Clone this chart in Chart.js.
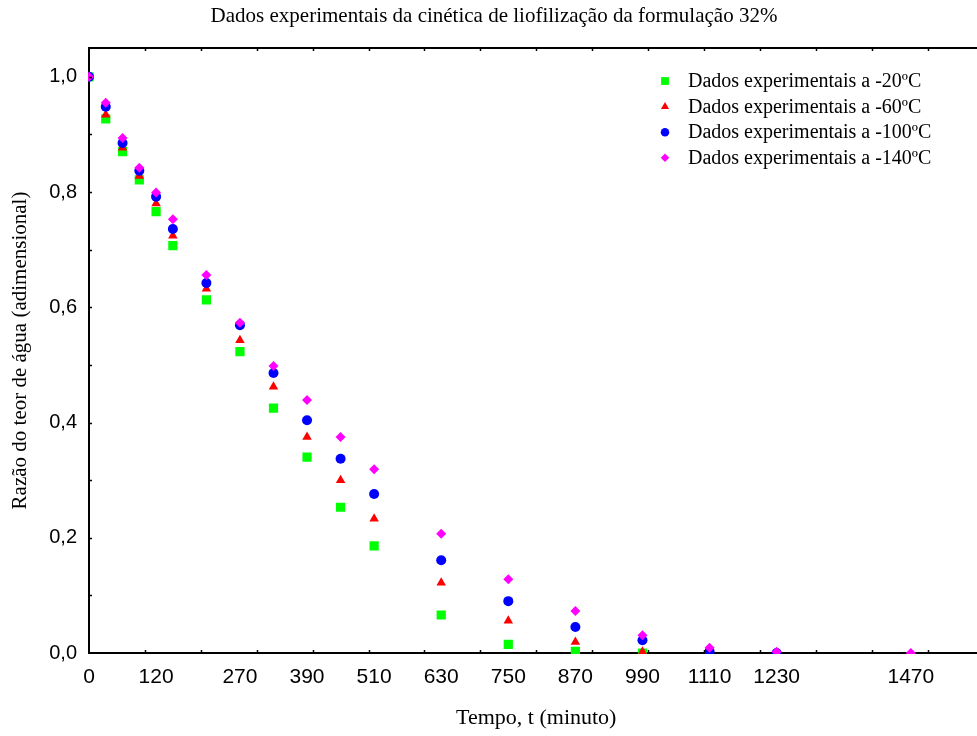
<!DOCTYPE html>
<html>
<head>
<meta charset="utf-8">
<title>Cinética de liofilização</title>
<script src="https://cdn.jsdelivr.net/npm/chart.js@4.4.1/dist/chart.umd.min.js"></script>
<style>
  html, body { margin: 0; padding: 0; background: #fff; overflow: hidden; }
  canvas { display: block; }
</style>
</head>
<body>
<canvas id="grafico" width="990" height="736"></canvas>
<script>
// dados
var tempos = [0, 30, 60, 90, 120, 150, 210, 270, 330, 390, 450, 510, 630, 750, 870, 990, 1110, 1230, 1470];

var razao20 = [1.0, 0.927, 0.870, 0.821, 0.766, 0.707, 0.613, 0.523, 0.425, 0.340, 0.253, 0.186, 0.066, 0.015, 0.003, 0.0];
var razao60 = [1.0, 0.934, 0.877, 0.828, 0.780, 0.724, 0.632, 0.543, 0.462, 0.375, 0.300, 0.233, 0.122, 0.056, 0.019, 0.002, 0.0];
var razao100 = [1.0, 0.948, 0.885, 0.837, 0.792, 0.736, 0.642, 0.569, 0.486, 0.404, 0.337, 0.276, 0.161, 0.090, 0.045, 0.022, 0.003, 0.0];
var razao140 = [1.0, 0.955, 0.894, 0.842, 0.799, 0.753, 0.656, 0.573, 0.498, 0.439, 0.375, 0.319, 0.207, 0.128, 0.073, 0.031, 0.009, 0.002, 0.0];

var rotulosX = [0, 120, 270, 390, 510, 630, 750, 870, 990, 1110, 1230, 1470];
var rotulosY = [0, 0.2, 0.4, 0.6, 0.8, 1.0];

var legendas = [
    'Dados experimentais a -20ºC',
    'Dados experimentais a -60ºC',
    'Dados experimentais a -100ºC',
    'Dados experimentais a -140ºC'
];

var titulo = 'Dados experimentais da cinética de liofilização da formulação 32%';
var tituloX = 'Tempo, t (minuto)';
var tituloY = 'Razão do teor de água (adimensional)';

function pontos(valores) {
    var ret = [];
    for (var i = 0; i < valores.length; i++) {
        ret.push({x: tempos[i], y: valores[i]});
    }
    return ret;
}

function serie(label, valores, cor, estilo, raio, ordem) {
    return {
        label: label,
        data: pontos(valores),
        pointStyle: estilo,
        pointRadius: raio,
        pointBackgroundColor: cor,
        pointBorderColor: cor,
        pointBorderWidth: 0,
        showLine: false,
        clip: 1,
        order: ordem
    };
}

// marcas pequenas dos eixos e a borda de cima
var marcasPlugin = {
    id: 'marcas',
    afterDatasetsDraw: function (chart) {
        var ctx = chart.ctx;
        var area = chart.chartArea;
        var sx = chart.scales.x;
        var sy = chart.scales.y;
        ctx.save();
        ctx.strokeStyle = '#000';
        ctx.lineWidth = 2;
        ctx.beginPath();
        ctx.moveTo(area.left - 1, area.top);
        ctx.lineTo(area.right + 2, area.top);
        ctx.stroke();

        ctx.lineWidth = 1.5;
        ctx.beginPath();
        for (var v = 100; v < sx.max; v += 100) {
            var px = Math.round(sx.getPixelForValue(v)) + 0.5;
            ctx.moveTo(px, area.bottom);
            ctx.lineTo(px, area.bottom - 3);
            ctx.moveTo(px, area.top);
            ctx.lineTo(px, area.top + 3);
        }
        for (var k = 1; k <= 10; k++) {
            var py = Math.round(sy.getPixelForValue(k / 10)) + 0.5;
            ctx.moveTo(area.left, py);
            ctx.lineTo(area.left + 3, py);
        }
        ctx.stroke();
        ctx.restore();
    }
};

// legenda dentro da area do grafico
var legendaPlugin = {
    id: 'legendaInterna',
    afterDraw: function (chart) {
        var ctx = chart.ctx;
        var sets = chart.data.datasets;
        var x0 = 665, y0 = 81, passo = 25.6;
        ctx.save();
        ctx.font = '20px "Liberation Serif", "Times New Roman", serif';
        ctx.textBaseline = 'middle';
        ctx.textAlign = 'left';
        for (var i = 0; i < sets.length; i++) {
            var ds = sets[i];
            var y = y0 + i * passo;
            ctx.fillStyle = ds.pointBackgroundColor;
            ctx.strokeStyle = ds.pointBorderColor;
            Chart.helpers.drawPoint(ctx, {
                pointStyle: ds.pointStyle,
                radius: ds.pointRadius * 0.85,
                rotation: 0,
                borderWidth: 0
            }, x0, y);
            ctx.fillStyle = '#000';
            ctx.fillText(ds.label, 688, y + 1);
        }
        ctx.restore();
    }
};

Chart.defaults.font.family = '"Liberation Sans", Arial, sans-serif';
Chart.defaults.color = '#000';

var ctx = document.getElementById('grafico').getContext('2d');

var grafico = new Chart(ctx, {
    type: 'scatter',
    data: {
        datasets: [
            serie(legendas[0], razao20, '#00ff00', 'rect', 6.5, 4),
            serie(legendas[1], razao60, '#ff0000', 'triangle', 5.5, 3),
            serie(legendas[2], razao100, '#0000ff', 'circle', 5, 2),
            serie(legendas[3], razao140, '#ff00ff', 'rectRot', 5, 1)
        ]
    },
    options: {
        responsive: false,
        animation: false,
        layout: {padding: {left: 0, right: 2, top: 0, bottom: 0}},
        plugins: {
            legend: {display: false},
            tooltip: {enabled: false},
            title: {
                display: true,
                text: titulo,
                color: '#000',
                font: {family: '"Liberation Serif", "Times New Roman", serif', size: 21, weight: 'normal'},
                padding: {top: 4, bottom: 18.8}
            }
        },
        scales: {
            x: {
                type: 'linear',
                position: 'bottom',
                min: 0,
                max: 1600,
                afterBuildTicks: function (scale) {
                    scale.ticks = rotulosX.map(function (v) { return {value: v}; });
                },
                afterFit: function (scale) { scale.height = 83; },
                grid: {display: false, drawTicks: false},
                border: {display: true, color: '#000', width: 2},
                ticks: {
                    font: {size: 21},
                    padding: 12,
                    maxRotation: 0,
                    autoSkip: false,
                    callback: function (v) { return String(v); }
                },
                title: {
                    display: true,
                    text: tituloX,
                    font: {family: '"Liberation Serif", "Times New Roman", serif', size: 22},
                    padding: {top: 5, bottom: 5}
                }
            },
            y: {
                type: 'linear',
                min: 0,
                max: 1.05,
                afterBuildTicks: function (scale) {
                    scale.ticks = rotulosY.map(function (v) { return {value: v}; });
                },
                afterFit: function (scale) { scale.width = 89; },
                grid: {display: false, drawTicks: false},
                border: {display: true, color: '#000', width: 2},
                ticks: {
                    font: {size: 20},
                    padding: 12,
                    callback: function (v) { return v.toFixed(1).replace('.', ','); }
                },
                title: {
                    display: true,
                    text: tituloY,
                    font: {family: '"Liberation Serif", "Times New Roman", serif', size: 21},
                    padding: {top: 8, bottom: 8}
                }
            }
        }
    },
    plugins: [marcasPlugin, legendaPlugin]
});
</script>
</body>
</html>
